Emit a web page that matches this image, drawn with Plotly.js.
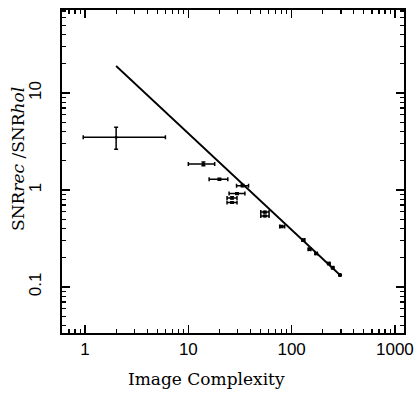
<!DOCTYPE html>
<html>
<head>
<meta charset="utf-8">
<script src="https://cdn.plot.ly/plotly-3.0.1.min.js"></script>
<style>html,body{margin:0;padding:0;background:#fff;}#chart{width:420px;height:394px;}</style>
</head>
<body>
<div id="chart"></div>
<script>
// Measured points (image complexity vs SNR ratio)
var complexity   = [2.0, 14.0, 20.0, 33.5, 29.6, 26.5, 26.5, 55, 55, 80, 130, 149, 173, 229, 250, 294];
var complexityLo = [0.96, 10.0, 15.9, 29.3, 24.8, 23.7, 23.7, 50.3, 50.3, 76.7, 126, 145, 169, 224, 245, 290];
var complexityHi = [6.0, 18.0, 24.1, 38.3, 35.3, 29.6, 29.6, 60.5, 60.5, 85.7, 134, 153, 177, 234, 255, 298];
var snrRatio     = [3.5, 1.85, 1.29, 1.11, 0.92, 0.83, 0.743, 0.593, 0.539, 0.42, 0.305, 0.245, 0.222, 0.175, 0.158, 0.133];
var snrLo        = [2.63, 1.78, 1.26, 1.08, 0.90, 0.81, 0.73, 0.58, 0.53, 0.41, 0.298, 0.240, 0.218, 0.172, 0.155, 0.131];
var snrHi        = [4.43, 1.94, 1.32, 1.14, 0.94, 0.85, 0.756, 0.606, 0.55, 0.43, 0.312, 0.250, 0.226, 0.178, 0.161, 0.135];
// Theoretical line
var lineX = [2, 294];
var lineY = [19, 0.133];

var xTickVals = [1, 10, 100, 1000];
var xTickText = ['1', '10', '100', '1000'];
var yTickVals = [0.1, 1, 10];
var yTickText = ['0.1', '1', '10'];

function diff(a, b) { return a.map(function (v, i) { return Math.abs(v - b[i]); }); }

var traces = [
  {
    x: lineX, y: lineY, mode: 'lines', type: 'scatter',
    line: {color: '#000', width: 1.8}, hoverinfo: 'skip'
  },
  {
    x: complexity, y: snrRatio, mode: 'markers', type: 'scatter',
    marker: {color: '#000', size: 3},
    error_x: {type: 'data', symmetric: false, array: diff(complexityHi, complexity), arrayminus: diff(complexity, complexityLo), color: '#000', thickness: 1.5, width: 2},
    error_y: {type: 'data', symmetric: false, array: diff(snrHi, snrRatio), arrayminus: diff(snrRatio, snrLo), color: '#000', thickness: 1.5, width: 2}
  }
];

var axisCommon = {
  type: 'log', showgrid: false, zeroline: false,
  showline: true, linecolor: '#000', linewidth: 2, mirror: 'allticks',
  ticks: 'inside', ticklen: 8, tickwidth: 1.5, tickcolor: '#000',
  tickmode: 'array',
  minor: {ticks: 'inside', ticklen: 4, tickwidth: 1.2, tickcolor: '#000', dtick: 'D1', showgrid: false},
  tickfont: {family: 'Liberation Sans, Arial, sans-serif', size: 17, color: '#000'}
};

var layout = {
  width: 420, height: 394,
  margin: {l: 62, r: 16, t: 10, b: 61},
  paper_bgcolor: '#fff', plot_bgcolor: '#fff',
  showlegend: false,
  xaxis: Object.assign({}, axisCommon, {
    range: [-0.223, 3.088], tickvals: xTickVals, ticktext: xTickText, ticklabelstandoff: 0
  }),
  yaxis: Object.assign({}, axisCommon, {
    range: [-1.474, 1.856], tickvals: yTickVals, ticktext: yTickText, tickangle: -90, ticklabelstandoff: 12
  }),
  annotations: [
    {text: 'Image Complexity', xref: 'paper', yref: 'paper', x: (206 - 62) / 342, y: -(379 - 333) / 323,
     xanchor: 'center', yanchor: 'middle', showarrow: false,
     font: {family: 'DejaVu Serif, serif', size: 17, color: '#000'}},
    {text: 'SNR<i>rec</i> /SNR<i>hol</i>', xref: 'paper', yref: 'paper', x: (18 - 62) / 342, y: (333 - 159) / 323,
     xanchor: 'center', yanchor: 'middle', textangle: -90, showarrow: false,
     font: {family: 'DejaVu Serif, serif', size: 17, color: '#000'}}
  ]
};

Plotly.newPlot('chart', traces, layout, {staticPlot: true, displayModeBar: false});
</script>
</body>
</html>
